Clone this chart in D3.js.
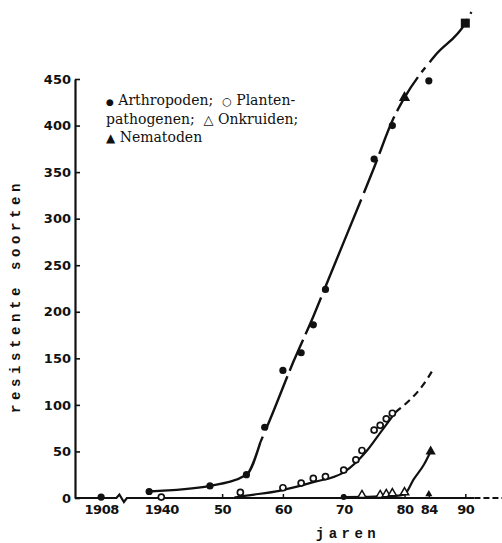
<!DOCTYPE html>
<html>
<head>
<meta charset="utf-8">
<script src="https://cdn.jsdelivr.net/npm/d3@7"></script>
<style>
  body { margin: 0; background: #fff; }
  svg { display: block; }
</style>
</head>
<body>
<svg id="chart"></svg>
<script>
// Arthropoden (filled dots)
const arthroYears  = [1908, 1938, 1948, 1954, 1957, 1960, 1963, 1965, 1967, 1975, 1978, 1984];
const arthroValues = [1, 7, 13, 25, 76, 137, 156, 186, 224, 364, 400, 448];
// trend line through the arthropod data
const arthroLineYears  = [1938, 1948, 1954, 1956.3, 1957.8, 1961.7, 1965, 1967.5, 1975, 1978.2, 1980, 1985, 1990, 1991];
const arthroLineValues = [7, 13, 25, 60, 83, 146, 195, 235, 355, 408, 430, 475, 510, 522];
const arthroTriYears = [1980], arthroTriValues = [430];
const prognoseYears = [1990], prognoseValues = [510];

// Plantenpathogenen (open circles)
const pathoYears  = [1940, 1953, 1960, 1963, 1965, 1967, 1970, 1972, 1973, 1975, 1976, 1977, 1978];
const pathoValues = [1, 6, 11, 16, 21, 23, 30, 41, 51, 73, 78, 85, 91];
const pathoLineYears  = [1952, 1954, 1959.6, 1965, 1970, 1973.8, 1976, 1978.5, 1983.7, 1984.6];
const pathoLineValues = [0.5, 2.5, 8, 17, 27.5, 50.7, 70, 92, 127.5, 137];

// Onkruiden (open triangles)
const weedYears  = [1973, 1976, 1977, 1978, 1980];
const weedValues = [3, 3, 4, 5, 6];
const weedFirstYears = [1970], weedFirstValues = [1];
const weedLineYears  = [1970, 1975, 1979, 1980, 1981.5, 1983.2, 1984.3];
const weedLineValues = [1, 1.5, 2.5, 4, 20, 36, 50];
const weedHeadYears = [1984.3], weedHeadValues = [50];

// Nematoden (filled triangle)
const nemaYears = [1984], nemaValues = [3];

const yTicks = [0, 50, 100, 150, 200, 250, 300, 350, 400, 450];
const xTicks = [1908, 1940, 1950, 1960, 1970, 1980, 1984, 1990];
const xTickLabels = ["1908", "1940", "50", "60", "70", "80", "84", "90"];

const W = 502, H = 543;
const svg = d3.select("#chart").attr("width", W).attr("height", H);

// broken time axis: 1908 segment, gap, then 1934 onward
const x = d3.scaleLinear()
    .domain([1903.7, 1911.5, 1933.6, 1996])
    .range([75, 122.4, 122.4, 501.8]);
const y = d3.scaleLinear()
    .domain([0, 450])
    .range([498, 79]);

const ink = "#111";
const zip = (a, b) => a.map((d, i) => [d, b[i]]);

// y axis
const yAxis = svg.append("g")
    .attr("transform", `translate(${x(1903.7)},0)`)
    .call(d3.axisLeft(y).tickValues(yTicks).tickSizeInner(-5).tickSizeOuter(0).tickPadding(4));
yAxis.select(".domain").attr("stroke", ink).attr("stroke-width", 2.2);
yAxis.selectAll(".tick line").attr("stroke", ink).attr("stroke-width", 1.6);
yAxis.selectAll(".tick text")
    .attr("fill", ink)
    .style("font-family", "'DejaVu Sans', sans-serif")
    .style("font-size", "13px")
    .style("font-weight", "bold");

// x axis with break
const xAxis = svg.append("g")
    .attr("transform", `translate(0,${y(0)})`)
    .call(d3.axisBottom(x).tickValues(xTicks)
        .tickFormat((d, i) => xTickLabels[i])
        .tickSizeInner(-4).tickSizeOuter(0).tickPadding(7));
xAxis.select(".domain").remove();
xAxis.selectAll(".tick line").attr("stroke", ink).attr("stroke-width", 1.5);
xAxis.selectAll(".tick text")
    .attr("fill", ink)
    .style("font-family", "'DejaVu Sans', sans-serif")
    .style("font-size", "13px")
    .style("font-weight", "bold")
    .style("letter-spacing", "-0.5px");

const y0 = y(0), xb = x(1911.5);
svg.append("path")
    .attr("d", `M${x(1903.7)},${y0}H${xb - 6}L${xb - 3},${y0 - 3.5}L${xb + 1.5},${y0 + 4}L${xb + 4.5},${y0}H${x(1991.5)}`)
    .attr("fill", "none").attr("stroke", ink).attr("stroke-width", 2.2);
svg.append("path")
    .attr("d", `M${x(1991.5)},${y0}H${W}`)
    .attr("fill", "none").attr("stroke", ink).attr("stroke-width", 2)
    .attr("stroke-dasharray", "6,3");

// curves
const line = d3.line().x(d => x(d[0])).y(d => y(d[1])).curve(d3.curveMonotoneX);

const arthroLine = zip(arthroLineYears, arthroLineValues);
svg.append("path")
    .datum(arthroLine.filter(d => d[0] <= 1956.3))
    .attr("d", line)
    .attr("fill", "none").attr("stroke", ink).attr("stroke-width", 2.4);
svg.append("path")
    .datum(arthroLine.filter(d => d[0] >= 1956.3))
    .attr("d", line)
    .attr("fill", "none").attr("stroke", ink).attr("stroke-width", 2.4)
    .attr("stroke-dasharray", "6,7,58,6,34,6,40,6,100,7,36,6,40,6,40,6");

const pathoLine = zip(pathoLineYears, pathoLineValues);
svg.append("path")
    .datum(pathoLine.filter(d => d[0] <= 1978.5))
    .attr("d", line)
    .attr("fill", "none").attr("stroke", ink).attr("stroke-width", 2.2);
svg.append("path")
    .datum(pathoLine.filter(d => d[0] >= 1978.5))
    .attr("d", line)
    .attr("fill", "none").attr("stroke", ink).attr("stroke-width", 2.2)
    .attr("stroke-dasharray", "7,5");

svg.append("path")
    .datum(zip(weedLineYears, weedLineValues))
    .attr("d", line)
    .attr("fill", "none").attr("stroke", ink).attr("stroke-width", 2.2);

// markers
const tri = d3.symbol().type(d3.symbolTriangle);

svg.append("g").selectAll("circle")
    .data(zip(arthroYears, arthroValues))
    .join("circle")
    .attr("cx", d => x(d[0])).attr("cy", d => y(d[1]))
    .attr("r", 3.6).attr("fill", ink);

svg.append("g").selectAll("path")
    .data(zip(arthroTriYears, arthroTriValues))
    .join("path")
    .attr("transform", d => `translate(${x(d[0])},${y(d[1])})`)
    .attr("d", tri.size(55)).attr("fill", ink);

svg.append("g").selectAll("rect")
    .data(zip(prognoseYears, prognoseValues))
    .join("rect")
    .attr("x", d => x(d[0]) - 4.5).attr("y", d => y(d[1]) - 4.5)
    .attr("width", 9).attr("height", 9).attr("fill", ink);

svg.append("g").selectAll("circle")
    .data(zip(pathoYears, pathoValues))
    .join("circle")
    .attr("cx", d => x(d[0])).attr("cy", d => y(d[1]))
    .attr("r", 3).attr("fill", "#fff").attr("stroke", ink).attr("stroke-width", 1.7);

svg.append("g").selectAll("path")
    .data(zip(weedYears, weedValues))
    .join("path")
    .attr("transform", d => `translate(${x(d[0])},${y(d[1])})`)
    .attr("d", tri.size(30)).attr("fill", "#fff").attr("stroke", ink).attr("stroke-width", 1.5);

svg.append("g").selectAll("circle")
    .data(zip(weedFirstYears, weedFirstValues))
    .join("circle")
    .attr("cx", d => x(d[0])).attr("cy", d => y(d[1]))
    .attr("r", 3).attr("fill", ink);

svg.append("g").selectAll("path")
    .data(zip(weedHeadYears, weedHeadValues))
    .join("path")
    .attr("transform", d => `translate(${x(d[0])},${y(d[1])})`)
    .attr("d", tri.size(45)).attr("fill", ink);

svg.append("g").selectAll("path")
    .data(zip(nemaYears, nemaValues))
    .join("path")
    .attr("transform", d => `translate(${x(d[0])},${y(d[1]) - 1})`)
    .attr("d", tri.size(22)).attr("fill", ink);

// legend, symbol glyphs a bit larger than the words
const legendLines = [
    [["\u25CF", 9], [" Arthropoden;  ", 14], ["\u25CB", 11], [" Planten-", 14]],
    [["pathogenen;  ", 14], ["\u25B3", 13], [" Onkruiden;", 14]],
    [["\u25B2", 12], [" Nematoden", 14]]
];
svg.append("g").selectAll("text")
    .data(legendLines)
    .join("text")
    .attr("x", 106)
    .attr("y", (d, i) => 105 + i * 18.5)
    .attr("fill", ink)
    .style("font-family", "'DejaVu Serif', serif")
    .style("font-size", "14px")
    .selectAll("tspan")
    .data(d => d)
    .join("tspan")
    .style("font-size", d => d[1] + "px")
    .style("white-space", "pre")
    .text(d => d[0]);

// axis titles
svg.append("text")
    .attr("transform", "translate(20,296) rotate(-90)")
    .attr("text-anchor", "middle")
    .attr("fill", ink)
    .style("font-family", "'Liberation Mono', monospace")
    .style("font-size", "14px")
    .style("font-weight", "bold")
    .style("letter-spacing", "4.6px")
    .text("resistente soorten");

svg.append("text")
    .attr("x", 348)
    .attr("y", 538)
    .attr("text-anchor", "middle")
    .attr("fill", ink)
    .style("font-family", "'Liberation Mono', monospace")
    .style("font-size", "14px")
    .style("font-weight", "bold")
    .style("letter-spacing", "4.5px")
    .text("jaren");
</script>
</body>
</html>
